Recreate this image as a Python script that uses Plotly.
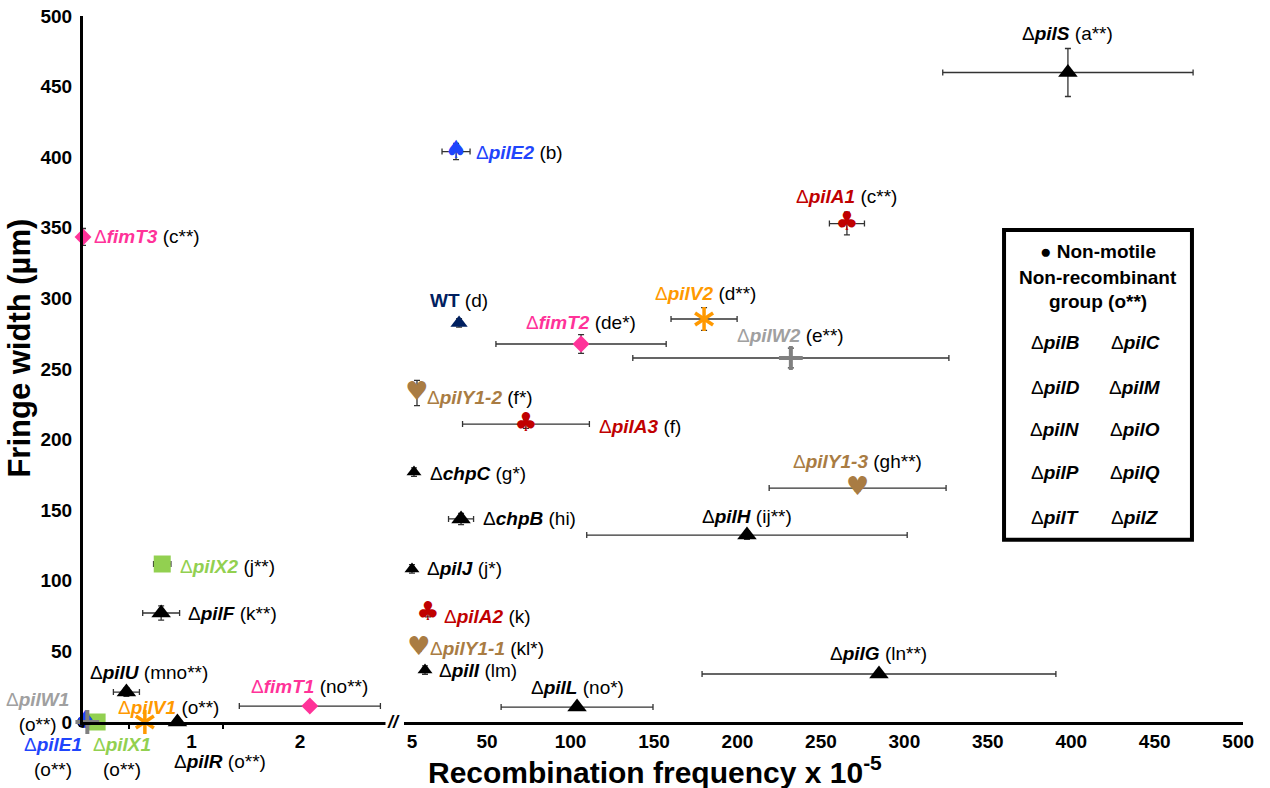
import plotly.graph_objects as go

# ---- data: recombination frequency (x 10^-5) vs fringe width (um) ----
strain = ["pilS", "pilE2", "pilA1", "fimT3", "WT", "pilV2", "fimT2", "pilW2",
          "pilY1-2", "pilA3", "chpC", "pilY1-3", "chpB", "pilH", "pilJ", "pilX2",
          "pilF", "pilA2", "pilY1-1", "pilI", "pilL", "pilG", "pilU", "fimT1",
          "pilV1", "pilR", "pilX1", "pilE1", "pilW1"]
letters = ["a**", "b", "c**", "c**", "d", "d**", "de*", "e**",
           "f*", "f", "g*", "gh**", "hi", "ij**", "j*", "j**",
           "k**", "k", "kl*", "lm", "no*", "ln**", "mno**", "no**",
           "o**", "o**", "o**", "o**", "o**"]
rec_freq = [398, 31.4, 265.6, 0, 33.2, 180, 106.3, 232,
            8, 73.3, 6.2, 272, 34.4, 205.7, 5, 0.73,
            0.72, 14.6, 9.2, 12.8, 103.9, 284.8, 0.40, 2.09,
            0.57, 0.87, 0.13, 0.02, 0.04]
rec_err = [75, 8.4, 10.5, 0, 0, 19.8, 51, 94.7,
           0, 38, 0, 53, 7.5, 96, 1.2, 0.08,
           0.17, 0, 0, 1.5, 45.5, 106, 0.12, 0.65,
           0, 0, 0, 0, 0]
fringe = [460, 404, 353, 343.5, 282.6, 285.4, 267.7, 257.8,
          233, 211, 177, 165.7, 143.8, 132.4, 108.4, 111.9,
          77.2, 76.5, 52.4, 36.8, 10.6, 34, 21.2, 11.3,
          0, 0, 0, 0, 0]
fringe_err = [17, 5.7, 8, 6, 3, 8, 6.7, 7,
              9, 3, 3, 2, 4, 3, 3, 2,
              5, 2, 2, 3, 2, 2, 3, 2,
              0, 0, 0, 0, 0]
# which side of the broken axis each strain sits on
segment = ["R", "R", "R", "L", "R", "R", "R", "R",
           "R", "R", "R", "R", "R", "R", "R", "L",
           "L", "R", "R", "R", "R", "R", "L", "L",
           "L", "L", "L", "L", "L"]
group = ["tri", "spade", "club", "diamond", "wt", "star", "diamond", "plus",
         "heart", "club", "tri_s", "heart", "tri", "tri", "tri_s", "square",
         "tri", "club", "heart", "tri_s", "tri", "tri", "tri", "diamond",
         "star", "tri", "square", "spade", "plus"]

# non-motile / non-recombinant group (all at the origin)
nonrec_x = [0]
nonrec_y = [0]
nonrec_members = ["pilB", "pilC", "pilD", "pilM", "pilN", "pilO", "pilP", "pilQ", "pilT", "pilZ"]

x_ticks_left = [1, 2]
x_ticks_right = [5, 50, 100, 150, 200, 250, 300, 350, 400, 450, 500]
y_ticks = [0, 50, 100, 150, 200, 250, 300, 350, 400, 450, 500]

# ---- styles ----
BLUE, RED, PINK, NAVY = "#1f45fc", "#C00000", "#FF3399", "#002060"
ORANGE, GREY, LGREY, BROWN, GREEN = "#FF9900", "#808080", "#A0A0A0", "#A97C43", "#92D050"

styles = {
    "tri":     dict(symbols=["triangle-up"], size=17, color="black"),
    "tri_s":   dict(symbols=["triangle-up"], size=13, color="black"),
    "wt":      dict(symbols=["triangle-up"], size=15, color=NAVY),
    "diamond": dict(symbols=["diamond"], size=13, color=PINK),
    "square":  dict(symbols=["square"], size=17, color=GREEN),
    # six-armed asterisk = two overlaid three-armed marks
    "star":    dict(symbols=["y-up-open", "y-down-open"], size=15, color=ORANGE, lw=3.5),
    "plus":    dict(symbols=["cross-thin-open"], size=17, color=GREY, lw=4),
    "club":    dict(glyph="\u2663", size=26, color=RED),
    "heart":   dict(glyph="\u2665", size=26, color=BROWN),
    "spade":   dict(glyph="\u2660", size=25, color=BLUE),
}
label_color = {"pilE2": BLUE, "pilE1": BLUE, "pilA1": RED, "pilA2": RED, "pilA3": RED,
               "fimT1": PINK, "fimT2": PINK, "fimT3": PINK, "pilV1": ORANGE, "pilV2": ORANGE,
               "pilW1": LGREY, "pilW2": LGREY, "pilY1-1": BROWN, "pilY1-2": BROWN,
               "pilY1-3": BROWN, "pilX1": GREEN, "pilX2": GREEN, "WT": NAVY}

# label placement: (xanchor, xshift px, yshift px)
label_pos = {
    "pilS": ("center", 0, 39), "pilE2": ("left", 18, -1), "pilA1": ("center", 0, 27),
    "fimT3": ("left", 9, 0), "WT": ("center", 0, 22), "pilV2": ("center", 1, 26),
    "fimT2": ("center", 0, 22), "pilW2": ("center", 0, 22), "pilY1-2": ("left", 8, -4),
    "pilA3": ("left", 71, -2), "chpC": ("left", 14, -1), "pilY1-3": ("center", 0, 27),
    "chpB": ("left", 20, 0), "pilH": ("center", 0, 19), "pilJ": ("left", 13, 0),
    "pilX2": ("left", 16, -2), "pilF": ("left", 25, -1), "pilA2": ("left", 14, -3),
    "pilY1-1": ("left", 9, 0), "pilI": ("left", 12, 0), "pilL": ("center", 0, 20),
    "pilG": ("center", 0, 20), "pilU": ("center", 23, 20), "fimT1": ("center", 0, 20),
    "pilV1": ("center", 24, 15), "pilR": ("center", 43, -39), "pilX1": ("center", 25, -35),
    "pilE1": ("center", -32, -35), "pilW1": ("center", -50, 10),
}
two_line = {"pilX1", "pilE1", "pilW1"}

FONT = "Liberation Sans, Arial, sans-serif"
LABEL_SIZE = 19
fig = go.Figure()

# non-motile group at the origin (drawn first, sits behind)
fig.add_trace(go.Scatter(x=nonrec_x, y=nonrec_y, xaxis="x", yaxis="y", mode="markers",
                         marker=dict(symbol="circle", size=12, color="black"),
                         cliponaxis=False, hoverinfo="skip"))

for i, s in enumerate(strain):
    st = styles[group[i]]
    xa = "x" if segment[i] == "L" else "x2"
    err_x = dict(type="data", array=[rec_err[i]], visible=rec_err[i] > 0,
                 color="#333333", thickness=1.3, width=3)
    err_y = dict(type="data", array=[fringe_err[i]], visible=fringe_err[i] > 0,
                 color="#333333", thickness=1.3, width=3)
    if "glyph" in st:
        fig.add_trace(go.Scatter(
            x=[rec_freq[i]], y=[fringe[i]], xaxis=xa, yaxis="y", mode="text",
            text=[st["glyph"]], textposition="middle center",
            textfont=dict(family="DejaVu Sans", size=st["size"], color=st["color"]),
            error_x=err_x, error_y=err_y, cliponaxis=False, hoverinfo="skip"))
    else:
        for j, sym in enumerate(st["symbols"]):
            mk = dict(symbol=sym, size=st["size"], color=st["color"])
            if "lw" in st:
                mk["line"] = dict(color=st["color"], width=st["lw"])
            fig.add_trace(go.Scatter(
                x=[rec_freq[i]], y=[fringe[i]], xaxis=xa, yaxis="y", mode="markers",
                marker=mk, error_x=err_x if j == 0 else None,
                error_y=err_y if j == 0 else None,
                cliponaxis=False, hoverinfo="skip"))

# ---- point labels ----
for i, s in enumerate(strain):
    xa = "x" if segment[i] == "L" else "x2"
    anchor, dx, dy = label_pos[s]
    c = label_color.get(s, "black")
    if s == "WT":
        name = f"<span style='color:{c}'><b>WT</b></span>"
    else:
        name = f"<span style='color:{c}'>\u0394<b><i>{s}</i></b></span>"
    sep = "<br>" if s in two_line else " "
    fig.add_annotation(x=rec_freq[i], y=fringe[i], xref=xa, yref="y",
                       text=f"{name}{sep}({letters[i]})", showarrow=False,
                       xanchor=anchor, yanchor="middle", xshift=dx, yshift=dy,
                       font=dict(family=FONT, size=LABEL_SIZE, color="black"))

# ---- axes (broken x axis: two segments sharing one y axis) ----
tickfont = dict(family=FONT, size=19, color="black", weight="bold")
axis_common = dict(showline=True, linewidth=3, linecolor="black", showgrid=False,
                   zeroline=False, tickmode="array", ticks="", tickfont=tickfont,
                   automargin=False)
fig.update_layout(
    width=1270, height=788, margin=dict(l=83, r=27, t=16, b=66, pad=0),
    plot_bgcolor="white", paper_bgcolor="white", showlegend=False,
    font=dict(family=FONT, size=18, color="black"),
    xaxis=dict(domain=[0, 0.262], range=[0, 2.8], anchor="y", tickvals=x_ticks_left,
               minor=dict(tickmode="array", tickvals=[0.42, 1.29], ticks="outside",
                          ticklen=4, tickwidth=1.5, tickcolor="black", showgrid=False),
               **axis_common),
    xaxis2=dict(domain=[0.2767, 1], range=[0.2, 502.9], anchor="y",
                tickvals=x_ticks_right, **axis_common),
    yaxis=dict(domain=[0, 1], range=[0, 500], anchor="x", tickvals=y_ticks,
               ticklabelstandoff=4, **axis_common),
)

# axis break marker
fig.add_annotation(x=0.268, y=0, xref="paper", yref="paper", text="<b><i>//</i></b>",
                   showarrow=False, xanchor="center", yanchor="middle",
                   font=dict(family=FONT, size=18, color="black"), bgcolor="white")

# axis titles
fig.add_annotation(x=0.493, y=-0.068, xref="paper", yref="paper",
                   text="<b>Recombination frequency x 10<sup>-5</sup></b>",
                   showarrow=False, xanchor="center", yanchor="middle",
                   font=dict(family=FONT, size=30, color="black"))
fig.add_annotation(x=-0.0545, y=0.53, xref="paper", yref="paper",
                   text="<b>Fringe width (\u00b5m)</b>", textangle=-90,
                   showarrow=False, xanchor="center", yanchor="middle",
                   font=dict(family=FONT, size=31, color="black"))

# ---- key box for the non-recombinant group ----
fig.add_shape(type="rect", xref="paper", yref="paper", x0=0.794, x1=0.956,
              y0=0.258, y1=0.697, line=dict(color="black", width=4),
              fillcolor="white", layer="below")
head = ["\u25cf Non-motile", "Non-recombinant", "group (o**)"]
head_y = [0.666, 0.629, 0.595]
for t, yy in zip(head, head_y):
    fig.add_annotation(x=0.875, y=yy, xref="paper", yref="paper", text=f"<b>{t}</b>",
                       showarrow=False, xanchor="center", yanchor="middle",
                       font=dict(family=FONT, size=19, color="black"))
row_y = [0.537, 0.4745, 0.415, 0.354, 0.290]
col_x = [0.838, 0.907]
for k, g in enumerate(nonrec_members):
    fig.add_annotation(x=col_x[k % 2], y=row_y[k // 2], xref="paper", yref="paper",
                       text=f"\u0394<b><i>{g}</i></b>", showarrow=False,
                       xanchor="center", yanchor="middle",
                       font=dict(family=FONT, size=19, color="black"))

fig.write_html("out.html")
